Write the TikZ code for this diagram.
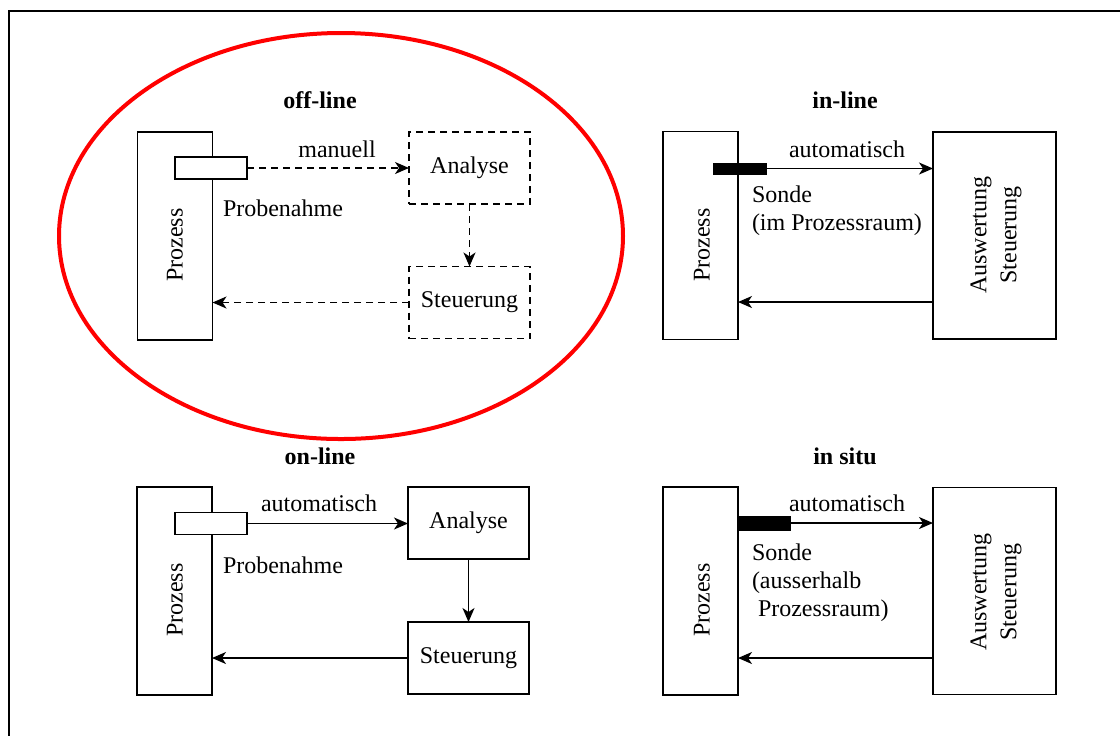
\documentclass[tikz,border=0pt]{standalone}
\usepackage{fontspec}
\setmainfont{Liberation Serif}
\usepackage{tikz}
\usepackage{xcolor}
\usetikzlibrary{calc,positioning,arrows,arrows.meta}

\begin{document}
\begin{tikzpicture}[x=0.5pt, y=-0.5pt,
        every node/.style={inner sep=0pt, outer sep=0pt, font=\fontsize{12pt}{14pt}\selectfont},
        titel/.style={font=\fontsize{12pt}{14pt}\selectfont\bfseries},
        kasten/.style={draw, line width=0.8pt},
        prozess/.style={kasten, minimum width=37.5pt, minimum height=104pt},
        probe/.style={kasten, fill=white, minimum width=36pt, minimum height=11pt},
        sonde/.style={draw, fill=black, minimum width=26.5pt},
        block/.style={kasten, minimum width=60.5pt, minimum height=36pt},
        auswert/.style={kasten, minimum width=61.5pt, minimum height=103.5pt},
        gestr/.style={dash pattern=on 3.5pt off 2.5pt},
        pfeil/.style={-{Stealth[length=7pt, width=6pt, inset=2pt]}, line width=0.8pt}]

        \useasboundingbox (0, 0) rectangle (1120, 736);

        %%Rahmen
        \draw[line width=1pt] (1120, 10.5) -- (8.5, 10.5) -- (8.5, 736);

        %%off-line
        \draw[red, line width=2pt] (341, 236) ellipse [x radius=141pt, y radius=101.5pt];
            \node[titel] (t1) at (320, 100){off-line};
        \node[prozess] (P1) at (175, 236){};
            \node[rotate=90] (P1t) at (175, 245){Prozess};
        \node[probe] (pn1) at (211, 168){};
            \node[anchor=west] (pn1t) at (223, 208){Probenahme};
        \node[block, gestr] (A1) at (469.5, 168){Analyse};
        \node[block, gestr] (S1) at (469.5, 302.5){Steuerung};
            \node (m1) at (337, 149){manuell};
                \draw[pfeil, gestr] (pn1.east) -- (A1.west);
                \draw[pfeil, gestr] (A1.south) -- (S1.north);
                \draw[pfeil, gestr] (S1.west) -- (S1.west -| P1.east);

        %%in-line
            \node[titel] (t2) at (845, 100){in-line};
        \node[prozess] (P2) at (700.5, 235.5){};
            \node[rotate=90] (P2t) at (702, 245){Prozess};
        \node[sonde, minimum height=5.5pt] (sd2) at (739.5, 168.5){};
            \node[anchor=west, align=left] (so2) at (752, 211){Sonde\\(im Prozessraum)};
        \node[auswert] (AS2) at (994.5, 235.5){};
            \node[rotate=90, align=center, font=\fontsize{12pt}{15pt}\selectfont] (AS2t) at (996, 235){Auswertung\\Steuerung};
            \node (a2) at (847, 149){automatisch};
        \coordinate (r2) at (933, 302);
                \draw[pfeil] (sd2.east) -- (sd2.east -| AS2.west);
                \draw[pfeil] (r2) -- (r2 -| P2.east);

        %%on-line
            \node[titel] (t3) at (320, 456){on-line};
        \node[prozess] (P3) at (174.5, 591){};
            \node[rotate=90] (P3t) at (175, 600){Prozess};
        \node[probe] (pn3) at (211, 523.5){};
            \node[anchor=west] (pn3t) at (223, 565){Probenahme};
        \node[block] (A3) at (468.5, 523){Analyse};
        \node[block] (S3) at (468.5, 658){Steuerung};
            \node (a3) at (319, 503){automatisch};
                \draw[pfeil] (pn3.east) -- (pn3.east -| A3.west);
                \draw[pfeil] (A3.south) -- (S3.north);
                \draw[pfeil] (S3.west) -- (S3.west -| P3.east);

        %%in situ
            \node[titel] (t4) at (845, 456){in situ};
        \node[prozess] (P4) at (700.5, 591){};
            \node[rotate=90] (P4t) at (702, 600){Prozess};
        \node[sonde, minimum height=7pt] (sd4) at (763.5, 523){};
            \node[anchor=west, align=left] (so4) at (752, 583){Sonde\\(ausserhalb\\\hspace{3pt}Prozessraum)};
        \node[auswert] (AS4) at (994.5, 591){};
            \node[rotate=90, align=center, font=\fontsize{12pt}{15pt}\selectfont] (AS4t) at (996, 592){Auswertung\\Steuerung};
            \node (a4) at (847, 503){automatisch};
        \coordinate (r4) at (933, 658);
                \draw[pfeil] (sd4.east) -- (sd4.east -| AS4.west);
                \draw[pfeil] (r4) -- (r4 -| P4.east);
    \end{tikzpicture}
\end{document}
